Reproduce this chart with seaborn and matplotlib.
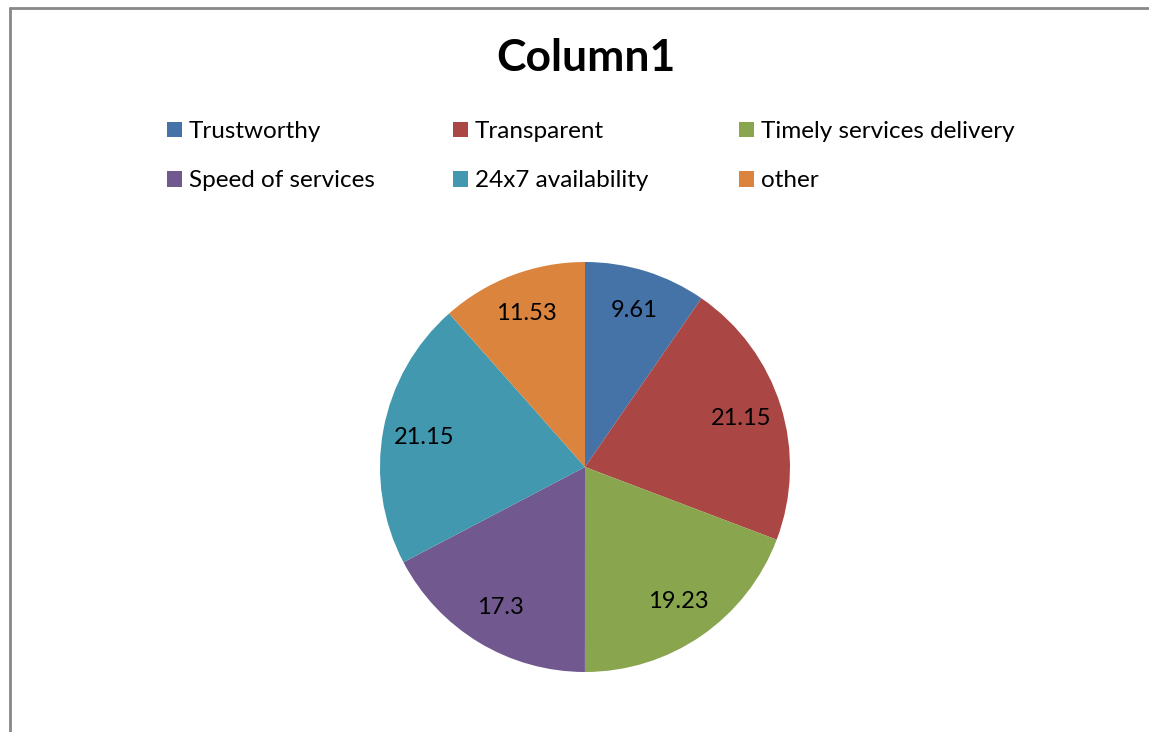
import matplotlib
matplotlib.use("Agg")
import numpy as np
import matplotlib.pyplot as plt
from matplotlib.lines import Line2D
from matplotlib.patches import Patch
import seaborn as sns

# Survey shares (percent) per attribute
categories = ["Trustworthy", "Transparent", "Timely services delivery",
              "Speed of services", "24x7 availability", "other"]
values = [9.61, 21.15, 19.23, 17.3, 21.15, 11.53]
value_labels = ["9.61", "21.15", "19.23", "17.3", "21.15", "11.53"]
title = "Column1"

sns.set_theme(style="white")
plt.rcParams["font.family"] = ["Lato", "DejaVu Sans"]
plt.rcParams["text.color"] = "black"

palette = sns.color_palette(["#4572A7", "#AA4643", "#89A54E",
                             "#71588F", "#4198AF", "#DB843D"])

W, H = 1149, 732
fig = plt.figure(figsize=(W / 100, H / 100), dpi=100)
fig.patch.set_facecolor("white")

# chart-area frame (top and left edges visible)
fig.add_artist(Line2D([10 / W, 10 / W], [0, 1 - 8 / H], transform=fig.transFigure,
                      color="#888888", lw=2))
fig.add_artist(Line2D([10 / W, 1], [1 - 8 / H, 1 - 8 / H], transform=fig.transFigure,
                      color="#888888", lw=2))

# pie area: centre (585, 467) px, radius 205 px
cx, cy, r = 585, 467, 205
ax = fig.add_axes([(cx - r) / W, (H - cy - r) / H, 2 * r / W, 2 * r / H])
wedges, _ = ax.pie(values, colors=palette, startangle=90, counterclock=False,
                   wedgeprops=dict(linewidth=0))
ax.set_xlim(-1, 1)
ax.set_ylim(-1, 1)
ax.set_aspect("equal")
ax.axis("off")

# value labels inside each wedge
total = sum(values)
start = 90.0
for v, lab in zip(values, value_labels):
    sweep = 360.0 * v / total
    mid = np.deg2rad(start - sweep / 2)
    ax.text(0.8 * np.cos(mid), 0.8 * np.sin(mid), lab, ha="center", va="center",
            fontsize=17, color="black")
    start -= sweep

fig.text(586 / W, 1 - 58 / H, title, ha="center", va="center",
         fontsize=32, fontweight="bold", color="black")

# legend: three evenly spaced columns, filled row by row
handles = [Patch(facecolor=c, edgecolor="none") for c in palette]
col_x = [167, 453, 739]
for j, x in enumerate(col_x):
    idx = [j, j + 3]
    leg = fig.legend([handles[i] for i in idx], [categories[i] for i in idx],
                     ncol=1, loc="upper left", bbox_to_anchor=(x / W, 1 - 121 / H),
                     frameon=False, fontsize=17.5, handlelength=0.62,
                     handleheight=0.62, handletextpad=0.28, labelspacing=1.16,
                     borderaxespad=0, borderpad=0, labelcolor="black")

fig.savefig("out.png", dpi=100, facecolor="white")
